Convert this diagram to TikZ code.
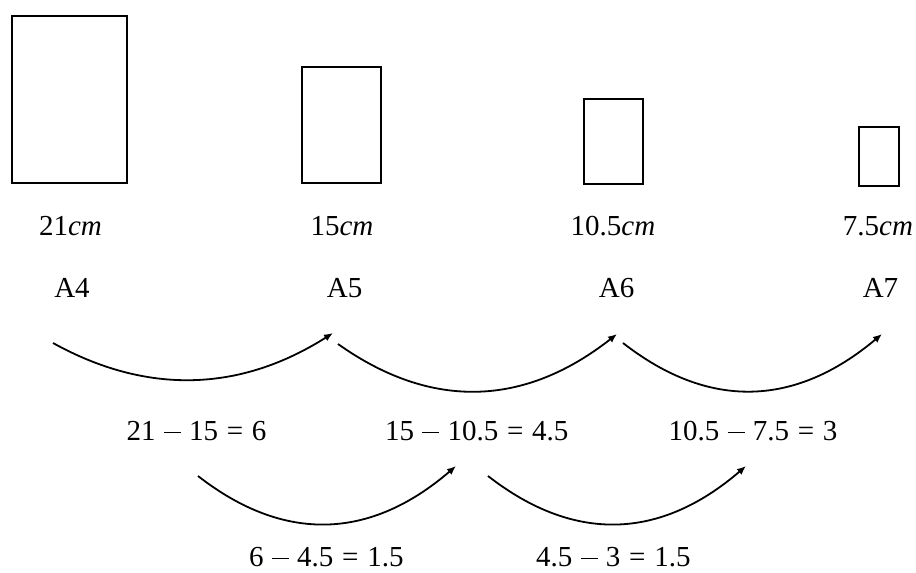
\documentclass[tikz,border=0pt]{standalone}
\usepackage{fontspec}
\setmainfont{Liberation Serif}
\usetikzlibrary{arrows.meta}
\newcommand\msub{\hspace{0.28em}\makebox[0.6em]{\rule[0.235em]{0.58em}{0.05em}}\hspace{0.28em}}
\newcommand\meq{\hspace{0.3em}=\hspace{0.3em}}
\begin{document}
\begin{tikzpicture}[x=1pt,y=-1pt,
  paper/.style={draw=black,line width=2pt},
  lbl/.style={anchor=base,inner sep=0pt,font=\fontsize{29}{34}\selectfont},
  curvearrow/.style={line width=1.8pt,-{Latex[length=9pt,width=7.5pt]}}]
\useasboundingbox (0,0) rectangle (916,573);
% papers
\draw[paper] (12,16) rectangle (127,183);
\draw[paper] (302,67) rectangle (381,183);
\draw[paper] (584,99) rectangle (643,184);
\draw[paper] (859,127) rectangle (899,186);
% size labels
\node[lbl] (w4) at (70.5,235) {21\textit{cm}};
\node[lbl] (w5) at (342,235) {15\textit{cm}};
\node[lbl] (w6) at (613,235) {10.5\textit{cm}};
\node[lbl] (w7) at (878,235) {7.5\textit{cm}};
\node[lbl] (a4) at (72,297.5) {A4};
\node[lbl] (a5) at (344.7,297.5) {A5};
\node[lbl] (a6) at (616.7,297.5) {A6};
\node[lbl] (a7) at (880.5,297.5) {A7};
% equations
\node[lbl] (e1) at (196.5,440) {21\msub 15\meq 6};
\node[lbl] (e2) at (476.7,440) {15\msub 10.5\meq 4.5};
\node[lbl] (e3) at (753,440) {10.5\msub 7.5\meq 3};
\node[lbl] (f1) at (326.3,566) {6\msub 4.5\meq 1.5};
\node[lbl] (f2) at (613.3,566) {4.5\msub 3\meq 1.5};
% arrow end points
\coordinate (s1) at (53,343);  \coordinate (t1) at (333,333);
\coordinate (s2) at (338,344); \coordinate (t2) at (617,334);
\coordinate (s3) at (623,343); \coordinate (t3) at (882,334);
\coordinate (s4) at (198,476); \coordinate (t4) at (456,466);
\coordinate (s5) at (488,476); \coordinate (t5) at (746,466);
\draw[curvearrow] (s1) .. controls (147,395) and (240,392) .. (t1);
\draw[curvearrow] (s2) .. controls (431,410) and (524,407) .. (t2);
\draw[curvearrow] (s3) .. controls (709,410) and (795,407) .. (t3);
\draw[curvearrow] (s4) .. controls (284,543) and (370,540) .. (t4);
\draw[curvearrow] (s5) .. controls (574,543) and (660,540) .. (t5);
\end{tikzpicture}
\end{document}
